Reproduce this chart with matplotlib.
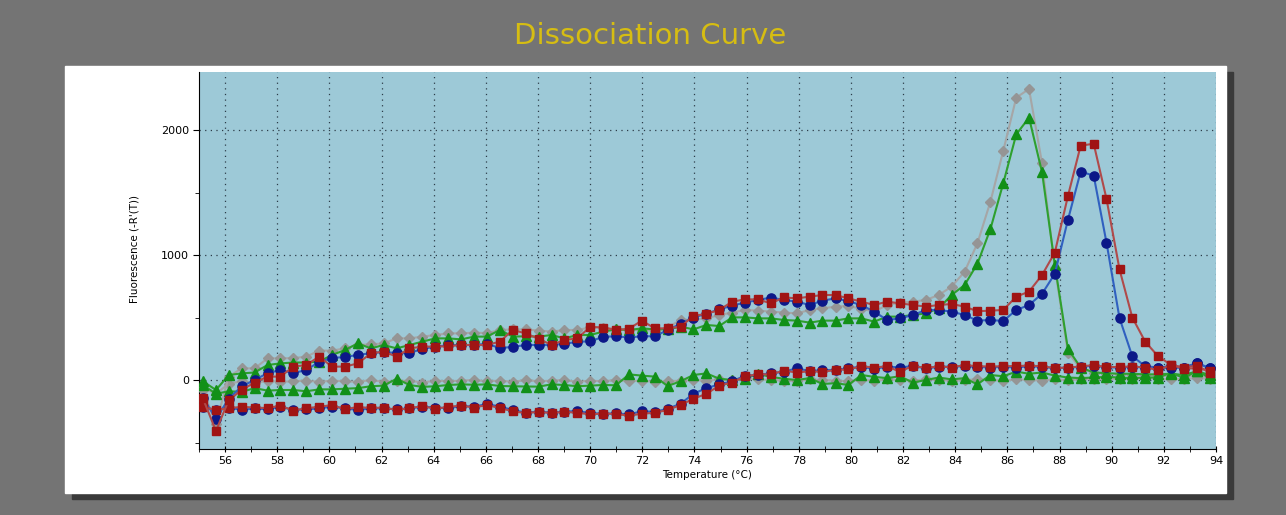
import matplotlib.pyplot as plt
from matplotlib.patches import Rectangle
from matplotlib.ticker import MultipleLocator

# temperature readings (degC)
temps = [55.15, 55.65, 56.14, 56.64, 57.13, 57.63, 58.12, 58.62, 59.11, 59.61,
         60.10, 60.60, 61.09, 61.59, 62.08, 62.58, 63.07, 63.57, 64.06, 64.56,
         65.05, 65.55, 66.04, 66.54, 67.03, 67.53, 68.02, 68.52, 69.01, 69.51,
         70.00, 70.50, 70.99, 71.49, 71.98, 72.48, 72.97, 73.47, 73.96, 74.46,
         74.95, 75.45, 75.94, 76.44, 76.93, 77.43, 77.92, 78.42, 78.91, 79.41,
         79.90, 80.40, 80.89, 81.39, 81.88, 82.38, 82.87, 83.37, 83.86, 84.36,
         84.85, 85.35, 85.84, 86.34, 86.83, 87.33, 87.82, 88.32, 88.81, 89.31,
         89.80, 90.30, 90.79, 91.29, 91.78, 92.28, 92.77, 93.27, 93.76]

# -R'(T) per well
blue_pos = [-140, -310, -150, -50, 0, 55, 80, 55, 80, 145,
            175, 185, 200, 215, 225, 215, 215, 250, 265, 280,
            280, 280, 290, 255, 265, 280, 280, 280, 290, 305,
            310, 345, 350, 340, 350, 350, 400, 450, 500, 530,
            565, 595, 620, 640, 660, 640, 627, 600, 635, 653,
            630, 600, 547, 480, 493, 520, 560, 560, 547, 520,
            475, 480, 472, 560, 600, 690, 850, 1280, 1667, 1635,
            1100, 495, 190, 110, 100, 95, 100, 135, 95]
red_pos = [-147, -408, -160, -80, -20, 27, 27, 107, 120, 187,
           107, 107, 133, 213, 227, 187, 253, 267, 267, 270,
           280, 280, 280, 307, 400, 373, 330, 280, 320, 333,
           425, 420, 400, 410, 475, 413, 413, 427, 512, 530,
           560, 627, 645, 645, 613, 661, 653, 667, 680, 680,
           653, 627, 600, 627, 613, 600, 587, 600, 608, 587,
           550, 555, 560, 667, 707, 840, 1020, 1470, 1875, 1890,
           1450, 885, 500, 305, 190, 120, 100, 115, 60]
green_pos = [-10, -80, 40, 53, 60, 120, 133, 140, 140, 147,
             200, 240, 293, 253, 280, 253, 280, 307, 333, 333,
             325, 347, 347, 400, 347, 350, 347, 360, 333, 360,
             360, 387, 405, 400, 413, 405, 405, 427, 405, 440,
             432, 501, 501, 493, 493, 480, 475, 459, 475, 475,
             493, 493, 467, 507, 507, 520, 533, 573, 680, 760,
             930, 1208, 1573, 1965, 2099, 1661, 920, 250, 100, 60,
             55, 50, 50, 45, 45, 50, 40, 70, 40]
gray_pos = [-80, -350, 27, 93, 93, 173, 173, 175, 187, 235,
            235, 253, 280, 285, 293, 333, 333, 347, 360, 373,
            373, 379, 375, 400, 405, 405, 395, 387, 400, 400,
            421, 420, 410, 400, 400, 395, 420, 480, 485, 493,
            520, 540, 560, 555, 547, 540, 533, 560, 573, 587,
            592, 570, 547, 600, 619, 627, 640, 680, 747, 867,
            1093, 1427, 1832, 2259, 2328, 1733, 900, 220, 90, 60,
            50, 45, 40, 40, 35, 30, 35, 30, 25]
blue_neg = [-215, -240, -220, -240, -227, -235, -213, -240, -235, -227,
            -213, -227, -240, -227, -227, -235, -227, -213, -220, -227,
            -208, -213, -192, -213, -240, -261, -253, -261, -253, -248,
            -265, -270, -267, -275, -250, -255, -230, -190, -110, -65,
            -35, -10, 35, 40, 55, 65, 95, 70, 80, 80,
            95, 105, 88, 107, 100, 112, 93, 105, 107, 110,
            105, 100, 105, 100, 110, 105, 95, 99, 105, 115,
            101, 100, 105, 100, 95, 115, 100, 135, 95]
red_neg = [-215, -240, -225, -215, -220, -225, -205, -245, -225, -215,
           -200, -235, -215, -225, -220, -240, -225, -210, -230, -215,
           -205, -220, -200, -225, -250, -265, -255, -265, -255, -262,
           -275, -268, -272, -285, -270, -262, -240, -200, -150, -110,
           -45, -20, 30, 45, 45, 75, 60, 70, 65, 80,
           85, 110, 100, 110, 65, 115, 95, 110, 100, 120,
           110, 108, 110, 112, 115, 110, 95, 100, 108, 120,
           102, 105, 108, 100, 80, 120, 90, 95, 75]
green_neg = [-40, -110, -90, -95, -65, -85, -80, -80, -90, -75,
             -75, -70, -65, -50, -45, 10, -40, -55, -50, -40,
             -35, -38, -35, -48, -50, -52, -53, -35, -40, -50,
             -45, -40, -42, 45, 35, 27, -48, -10, 40, 53,
             10, 0, 12, 48, 25, 10, 0, 15, -32, -25,
             -40, 40, 25, 15, 30, -21, 0, 20, 5, 15,
             -35, 40, 30, 67, 50, 60, 35, 20, 15, 20,
             25, 20, 15, 20, 20, 59, 15, 75, 15]
gray_neg = [-60, -110, -30, -10, -25, -5, -15, -10, -5, -15,
            -5, -10, -15, 0, -15, -10, -5, -20, -5, -10,
            -5, 0, -10, -5, -15, 0, -10, -5, 0, -15,
            -5, -10, 0, -10, -5, -15, -10, -5, 0, -5,
            5, 0, 10, 5, 0, -5, -10, 5, 0, -5,
            -10, 0, -5, 5, 0, -5, 5, 0, -5, 0,
            5, 0, -5, 5, 0, -5, 5, 0, 5, 10,
            5, 10, 5, 15, 10, 5, 10, 15, 10]

x_ticks = list(range(56, 95, 2))
y_ticks = [0, 1000, 2000]

W, H = 1286, 515
fig = plt.figure(figsize=(W / 100, H / 100), dpi=100, facecolor="#747474")

# white panel with dark drop shadow (kept behind the axes)
fig.patches.append(Rectangle((72 / W, (H - 499) / H), 1161 / W, 427 / H,
                             transform=fig.transFigure, color="#3a3a3a", zorder=-3))
fig.patches.append(Rectangle((65 / W, (H - 493) / H), 1161 / W, 427 / H,
                             transform=fig.transFigure, color="white", zorder=-2))

ax = fig.add_axes([199 / W, (H - 449) / H, 1017 / W, 377 / H])
ax.set_facecolor("#9dc9d7")

styles = [
    (gray_neg, gray_pos, "D", 5.6, "#959595", "#a6a6a6"),
    (green_neg, green_pos, "^", 6.8, "#129018", "#2ea02e"),
    (blue_neg, blue_pos, "o", 6.6, "#0c1888", "#3060c0"),
    (red_neg, red_pos, "s", 6.4, "#a01414", "#b04a4a"),
]
for neg, pos, mk, ms, mcol, lcol in styles:
    for ys in (neg, pos):
        ax.plot(temps, ys, color=lcol, lw=1.5, marker=mk, ms=ms,
                mfc=mcol, mec=mcol, zorder=3)

ax.set_xlim(55, 94)
ax.set_ylim(-552, 2464)
ax.set_xticks(x_ticks)
ax.xaxis.set_minor_locator(MultipleLocator(1))
ax.set_yticks(y_ticks)
ax.yaxis.set_minor_locator(MultipleLocator(500))
ax.tick_params(axis="both", which="major", labelsize=8, length=4, pad=3)
ax.tick_params(axis="x", which="both", direction="inout")
ax.tick_params(axis="x", which="minor", length=4)
ax.tick_params(axis="y", which="minor", length=3)

ax.grid(which="major", linestyle=(0, (1, 3.5)), color="#2c3c48", linewidth=0.9)
ax.set_axisbelow(True)
for side in ("top", "right"):
    ax.spines[side].set_visible(False)

ax.set_xlabel("Temperature (°C)", fontsize=7.5)
ax.set_ylabel("Fluorescence (-R'(T))", fontsize=7.5)
ax.xaxis.label.set_va("center")
ax.yaxis.label.set_va("center")
ax.xaxis.set_label_coords(0.5, -0.069)
ax.yaxis.set_label_coords(-0.063, 0.53)

fig.text(650 / W, 1 - 36 / H, "Dissociation Curve", color="#d6bd12",
         fontsize=21, ha="center", va="center")

fig.savefig("out.png", dpi=100, facecolor=fig.get_facecolor())
